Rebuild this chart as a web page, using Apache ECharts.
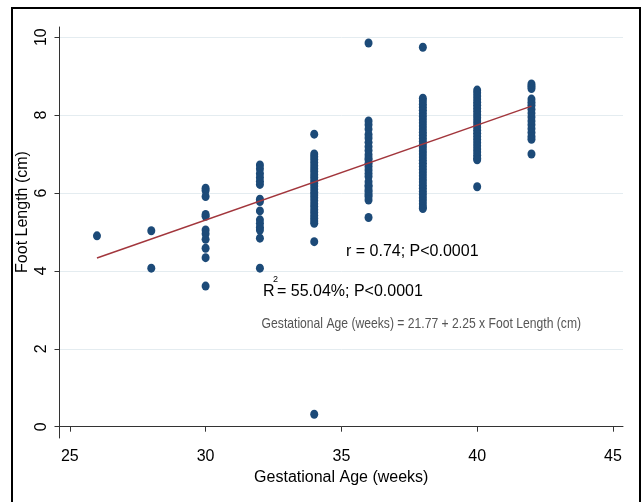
<!DOCTYPE html>
<html>
<head>
<meta charset="utf-8">
<script src="https://cdn.jsdelivr.net/npm/echarts@6/dist/echarts.min.js"></script>
<style>
html,body{margin:0;padding:0;background:#fff;}
#chart{width:642px;height:502px;}
</style>
</head>
<body>
<div id="chart"></div>
<script>
// Gestational age (weeks) groups and foot length (cm) values
const weeks = [26, 28, 30, 32, 34, 36, 38, 40, 42];
const fl26 = [4.90];
const fl28 = [5.03, 4.07];
const fl30 = [6.12, 6.06, 5.91, 5.45, 5.40, 5.05, 4.95, 4.81, 4.58, 4.34, 3.61];
const fl32 = [6.72, 6.62, 6.50, 6.40, 6.30, 6.22, 5.84, 5.78, 5.54, 5.31, 5.22, 5.12, 5.05, 4.84, 4.07];
const fl34 = [7.51, 7.00, 6.93, 6.86, 6.78, 6.70, 6.62, 6.55, 6.47, 6.40, 6.32, 6.25, 6.18, 6.10, 6.02, 5.95, 5.88, 5.80, 5.72, 5.65, 5.57, 5.50, 5.42, 5.35, 5.28, 5.22, 4.75, 0.32];
const fl36 = [9.85, 7.85, 7.75, 7.64, 7.50, 7.41, 7.30, 7.19, 7.09, 6.98, 6.90, 6.85, 6.76, 6.68, 6.59, 6.50, 6.42, 6.29, 6.20, 6.16, 6.08, 6.03, 5.96, 5.91, 5.82, 5.37];
const fl38 = [9.74, 8.43, 8.36, 8.28, 8.20, 8.12, 8.04, 7.96, 7.88, 7.80, 7.72, 7.64, 7.56, 7.48, 7.40, 7.32, 7.24, 7.16, 7.08, 7.00, 6.92, 6.84, 6.76, 6.68, 6.60, 6.52, 6.44, 6.36, 6.28, 6.20, 6.12, 6.04, 5.96, 5.88, 5.80, 5.72, 5.64, 5.60];
const fl40 = [8.64, 8.57, 8.49, 8.41, 8.33, 8.25, 8.17, 8.09, 8.01, 7.93, 7.85, 7.77, 7.69, 7.61, 7.53, 7.45, 7.37, 7.29, 7.21, 7.13, 7.05, 6.97, 6.89, 6.85, 6.16];
const fl42 = [8.80, 8.74, 8.68, 8.41, 8.33, 8.25, 8.15, 8.05, 7.95, 7.85, 7.75, 7.65, 7.55, 7.45, 7.38, 7.00];
const groups = [fl26, fl28, fl30, fl32, fl34, fl36, fl38, fl40, fl42];

// fitted regression line end points
const regX = [26, 42];
const regY = [4.33, 8.23];

// tick labels
const xTicks = [25, 30, 35, 40, 45];
const yTicks = [0, 2, 4, 6, 8, 10];

const scatterData = [];
weeks.forEach((w, i) => groups[i].forEach(v => scatterData.push([w, v])));
const lineData = regX.map((x, i) => [x, regY[i]]);

const FONT = "'Liberation Sans', Arial, sans-serif";
const chart = echarts.init(document.getElementById('chart'), null, {renderer: 'canvas'});
chart.setOption({
  backgroundColor: '#ffffff',
  animation: false,
  grid: {left: 59.5, right: 19, top: 27, bottom: 64, containLabel: false},
  xAxis: {
    type: 'value', min: 24.62, max: 45.37,
    name: 'Gestational Age (weeks)', nameLocation: 'middle', nameGap: 28,
    nameTextStyle: {fontFamily: FONT, fontSize: 16, color: '#000'},
    axisLine: {show: true, lineStyle: {color: '#333', width: 1}},
    axisTick: {show: true, inside: false, length: 5, customValues: xTicks, lineStyle: {color: '#333'}},
    axisLabel: {customValues: xTicks, fontFamily: FONT, fontSize: 16, color: '#000', margin: 11},
    splitLine: {show: false}
  },
  yAxis: {
    type: 'value', min: -0.29, max: 10.26,
    axisLine: {show: true, lineStyle: {color: '#333', width: 1}},
    axisTick: {show: true, inside: false, length: 5, customValues: yTicks, lineStyle: {color: '#333'}},
    axisLabel: {customValues: yTicks, rotate: 90, fontFamily: FONT, fontSize: 16, color: '#000', margin: 10},
    splitLine: {show: true, lineStyle: {color: '#e4ecf0', width: 1}}
  },
  series: [
    {
      type: 'scatter', data: scatterData, symbol: 'circle', symbolSize: [8, 9],
      itemStyle: {color: '#1c4a78', opacity: 1}, z: 2
    },
    {
      type: 'line', data: lineData, symbol: 'none', smooth: false,
      lineStyle: {color: '#a2363c', width: 1.5}, z: 3
    }
  ],
  graphic: [
    {type: 'rect', shape: {x: 12, y: 8, width: 628, height: 510}, style: {fill: 'none', stroke: '#000', lineWidth: 2}, silent: true},
    {type: 'text', x: 23, y: 212, rotation: Math.PI / 2, style: {text: 'Foot Length (cm)', fontFamily: FONT, fontSize: 16, fill: '#000', align: 'center', verticalAlign: 'middle'}},
    {type: 'text', x: 346, y: 251.7, style: {text: 'r = 0.74; P<0.0001', fontFamily: FONT, fontSize: 16, fill: '#000', verticalAlign: 'middle'}},
    {type: 'text', x: 263, y: 291.7, style: {text: 'R', fontFamily: FONT, fontSize: 16, fill: '#000', verticalAlign: 'middle'}},
    {type: 'text', x: 273, y: 280, style: {text: '2', fontFamily: FONT, fontSize: 9, fill: '#000', verticalAlign: 'middle'}},
    {type: 'text', x: 277, y: 291.7, style: {text: '= 55.04%; P<0.0001', fontFamily: FONT, fontSize: 16, fill: '#000', verticalAlign: 'middle'}},
    {type: 'text', x: 261.6, y: 324.3, scaleX: 0.81, style: {text: 'Gestational Age (weeks) = 21.77 + 2.25 x Foot Length (cm)', fontFamily: FONT, fontSize: 15, fill: '#555', verticalAlign: 'middle'}}
  ]
});
</script>
</body>
</html>
